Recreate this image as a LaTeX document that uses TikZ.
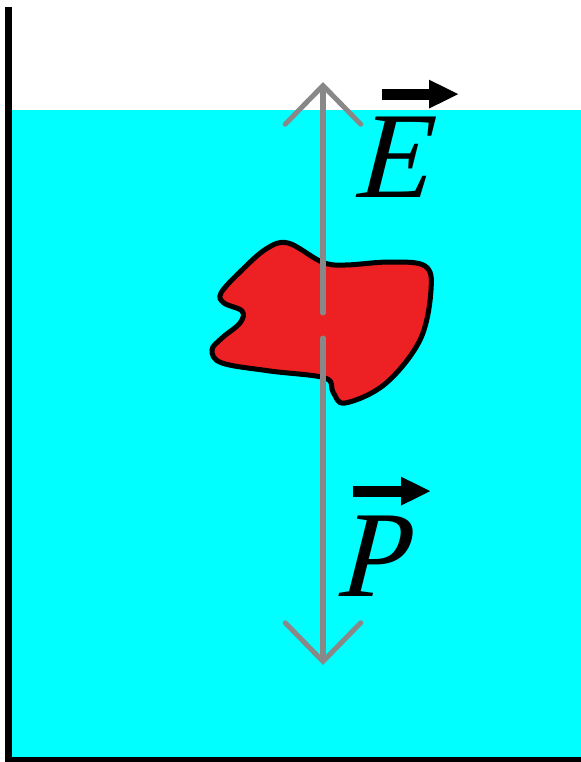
\documentclass[tikz,border=0pt]{standalone}
\usepackage{fontspec}
\newfontfamily\slantfont{Liberation Serif}[FakeSlant=0.25]
\usetikzlibrary{arrows.meta}
\definecolor{water}{RGB}{0,255,255}
\definecolor{blobred}{RGB}{237,32,36}
\definecolor{forcegray}{RGB}{136,136,136}
\tikzset{
  force/.style={forcegray, line width=2.85pt, line cap=round,
    -{Straight Barb[length=22pt, width=43pt, line cap=round]}},
  vecarrow/.style={line width=6.2pt, -{Triangle[length=17pt, width=15pt]}},
  forcelabel/.style={inner sep=0pt, font=\fontsize{70}{70}\selectfont\slantfont}
}
\begin{document}
\begin{tikzpicture}[x=0.02cm, y=-0.02cm]
  \useasboundingbox (0,0) rectangle (581,762);

  % Water
  \fill[water] (12,110) rectangle (581,757);

  % Vessel
  \fill[black] (5,7) rectangle (12,762);
  \fill[black] (5,757) rectangle (581,762);

  % Body
  \draw[line width=2.85pt, fill=blobred] plot[smooth cycle, tension=0.6] coordinates {
    (288,243) (322,262) (345,265) (390,262) (425,266) (431,290)
    (420,340) (385,384) (345,403) (333,392) (325,378) (270,371)
    (222,363) (212,350) (222,338) (240,323) (242,311) (224,303)
    (221,293) (240,272) (266,249)};

  % Forces
  \coordinate (top) at (323,313);
  \coordinate (bot) at (323,338);
  \coordinate (Etip) at (323,82);
  \coordinate (Ptip) at (323,665);
  \draw[force] (top) -- (Etip);
  \draw[force] (bot) -- (Ptip);

  % Labels
  \node[forcelabel, anchor=base west] (E) at (352,197) {E};
  \node[forcelabel, anchor=base west] (P) at (334,596) {P};
  \draw[vecarrow] ([xshift=30*0.02cm, yshift=22*0.02cm]E.north west) -- ++(77,0);
  \draw[vecarrow] ([xshift=19*0.02cm, yshift=24*0.02cm]P.north west) -- ++(78,0);
\end{tikzpicture}
\end{document}
